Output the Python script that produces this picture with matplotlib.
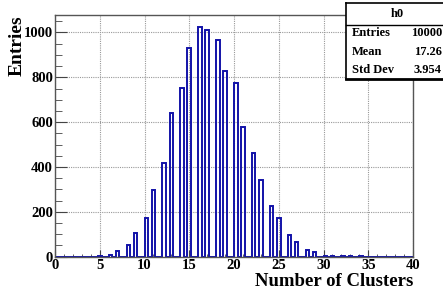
import numpy as np
import matplotlib
matplotlib.use("Agg")
import matplotlib.pyplot as plt
from matplotlib.ticker import MultipleLocator

# number of clusters per event and how many events had it
n_clusters = [5, 6, 7, 8, 9, 10, 11, 12, 13, 14, 15, 16, 17, 18, 19, 20,
              21, 22, 23, 24, 25, 26, 27, 28, 29, 30, 31, 32, 33, 34]
counts = [2, 8, 24, 52, 104, 174, 299, 416, 641, 754, 932, 1024, 1009, 966,
          827, 773, 579, 463, 340, 226, 171, 97, 67, 30, 20, 3, 3, 4, 3, 2]

stats_labels = ["Entries", "Mean", "Std Dev"]
stats_values = ["10000", "17.26", "3.954"]

plt.rcParams['font.family'] = ['Liberation Serif', 'DejaVu Serif']
plt.rcParams['font.weight'] = 'bold'

fig = plt.figure(figsize=(4.43, 2.93), dpi=100)
ax = fig.add_axes([55 / 443, 36.3 / 293, 358 / 443, 241.7 / 293])

# 100 bins between 0 and 40, like the original histogram
bins = np.linspace(0, 40, 101)
ax.hist(n_clusters, bins=bins, weights=counts, histtype='step',
        color='#1212a8', linewidth=1.4)

ax.set_xlim(0, 40)
ax.set_ylim(0, 1078)
ax.xaxis.set_major_locator(MultipleLocator(5))
ax.xaxis.set_minor_locator(MultipleLocator(1))
ax.yaxis.set_major_locator(MultipleLocator(200))
ax.yaxis.set_minor_locator(MultipleLocator(50))
ax.grid(True, which='major', color='#999999', linestyle=(0, (1, 1)), linewidth=0.8)
ax.set_axisbelow(True)

ax.tick_params(axis='both', which='both', direction='in', colors='#444444',
               labelcolor='black', labelsize=10.5)
ax.tick_params(axis='x', which='major', length=4.8, pad=2)
ax.tick_params(axis='x', which='minor', length=2.4)
ax.tick_params(axis='y', which='major', length=8.6, pad=1.5)
ax.tick_params(axis='y', which='minor', length=4.8)
fig.canvas.draw()
for lab in ax.get_xticklabels() + ax.get_yticklabels():
    lab.set_fontweight('bold')
for sp in ax.spines.values():
    sp.set_color('#555555')
    sp.set_linewidth(1.0)

fig.text(17 / 443, 1 - 15 / 293, "Entries", rotation=90, ha='center', va='top',
         fontsize=14, fontweight='bold')
fig.text(413.5 / 443, 1 - 282 / 293, "Number of Clusters", ha='right', va='center',
         fontsize=13.5, fontweight='bold')

# stats box in the top right corner
bx = fig.add_axes([346 / 443, 1 - 79 / 293, 0.25, 76 / 293])
bx.set_xlim(0, 1)
bx.set_ylim(0, 1)
bx.set_xticks([])
bx.set_yticks([])
for sp in bx.spines.values():
    sp.set_color('black')
    sp.set_linewidth(1.2)
bx.spines['bottom'].set_linewidth(2.0)
fig.add_artist(plt.Line2D([346 / 443, 1], [1 - 25 / 293, 1 - 25 / 293],
                          color='black', linewidth=1.0, zorder=10))
fig.text(397 / 443, 1 - 14 / 293, "h0", ha='center', va='center',
         fontsize=9, fontweight='bold', zorder=11)
row_y = [33, 52, 70]
for lab, val, y in zip(stats_labels, stats_values, row_y):
    fig.text(352 / 443, 1 - y / 293, lab, ha='left', va='center',
             fontsize=9, fontweight='bold', zorder=11)
    fig.text(442 / 443, 1 - y / 293, val, ha='right', va='center',
             fontsize=9, fontweight='bold', zorder=11)

fig.savefig("out.png", dpi=100)
